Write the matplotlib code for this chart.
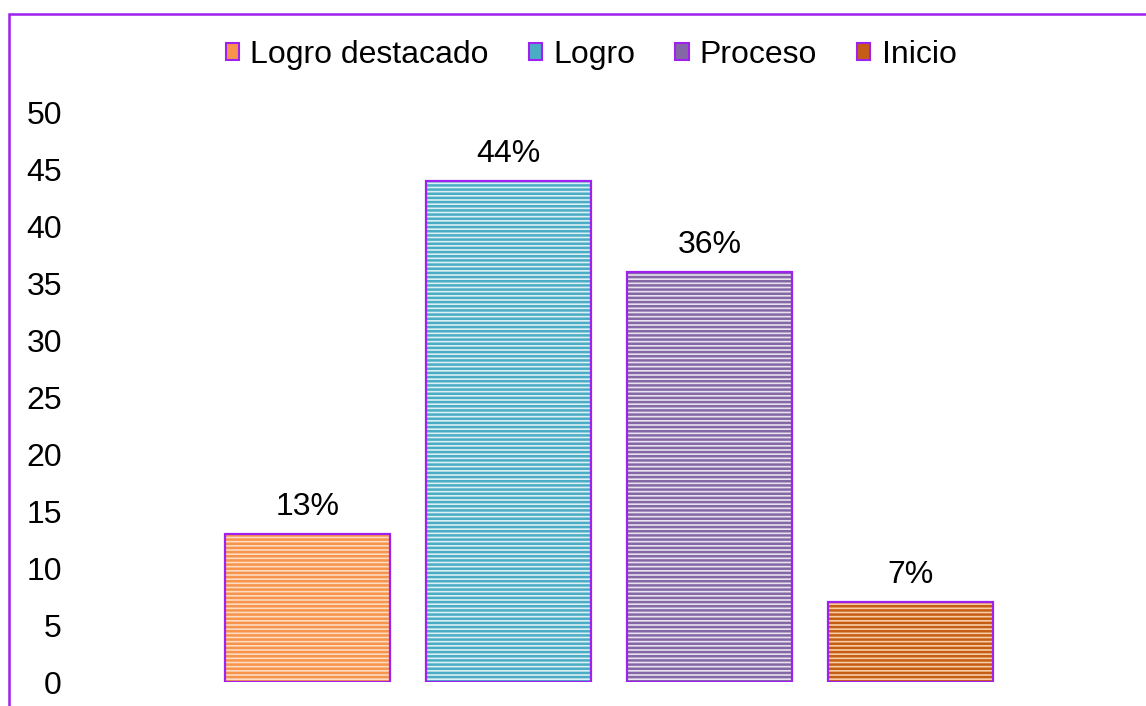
import matplotlib.pyplot as plt
from matplotlib.patches import Patch, Rectangle

plt.rcParams['font.family'] = ['Liberation Sans', 'DejaVu Sans']
plt.rcParams['hatch.linewidth'] = 1.8

categories = ["Logro destacado", "Logro", "Proceso", "Inicio"]
values = [13, 44, 36, 7]
labels = ["13%", "44%", "36%", "7%"]
yticks = [0, 5, 10, 15, 20, 25, 30, 35, 40, 45, 50]

darkColors = ["#F7934A", "#4BACC6", "#8468A6", "#C55E14"]
lightColors = ["#FDDCC2", "#DCEFF5", "#E8E2EF", "#F8CDA6"]
edge = "#A020F0"

fig = plt.figure(figsize=(11.46, 7.06), dpi=100)
W, H = 1146, 706
ax = fig.add_axes([75 / W, 24 / H, (1143 - 75) / W, (682 - 113) / H])

x = list(range(len(categories)))
width = 0.825
# light background, dark stripes on top, purple outline last
ax.bar(x, values, width, color=lightColors, linewidth=0)
ax.bar(x, values, width, color="none", edgecolor=darkColors, hatch="----", linewidth=0)
ax.bar(x, values, width, color="none", edgecolor=edge, linewidth=1.6)

for xi, v, lab in zip(x, values, labels):
    ax.annotate(lab, (xi, v), xytext=(0, 9), textcoords="offset points",
                ha="center", va="bottom", fontsize=23)

span = (1143 - 75) / 201
ax.set_xlim(1.5 - span / 2, 1.5 + span / 2)
ax.set_ylim(0, 50)
ax.set_yticks(yticks)
ax.set_xticks([])
ax.tick_params(axis="y", length=0, labelsize=23, pad=9.4)
for s in ax.spines.values():
    s.set_visible(False)

handles = [Patch(facecolor=lc, edgecolor=edge, linewidth=1.5) for lc in darkColors]
fig.legend(handles, categories, loc="center", bbox_to_anchor=(591 / W, 1 - 55 / H),
           ncol=4, frameon=False, fontsize=23, handlelength=0.42, handleheight=0.42,
           handletextpad=0.35, columnspacing=1.25, borderpad=0)

# outer frame (only left and top visible in the crop)
fig.patches.append(Rectangle((9 / W, -0.1), 1.2, 1.1 - 14 / H,
                             transform=fig.transFigure, fill=False,
                             edgecolor=edge, linewidth=1.8))

fig.savefig("out.png", dpi=100)
